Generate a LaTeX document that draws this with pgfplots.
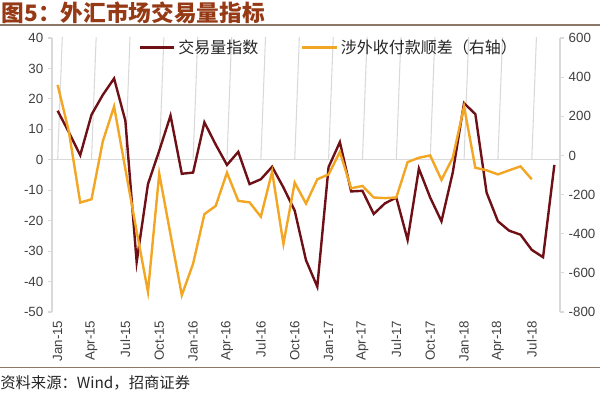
\documentclass[border=0pt]{standalone}
\usepackage{fontspec}
\setmainfont{Liberation Sans}
\newfontfamily\cjk{Noto Sans CJK SC}
\usepackage{pgfplots}
\pgfplotsset{compat=1.18}
\definecolor{redline}{RGB}{110,16,22}
\definecolor{orangeline}{RGB}{242,166,36}
\definecolor{axgray}{RGB}{217,217,217}
\definecolor{titlecol}{RGB}{150,58,22}
\definecolor{rulecol}{RGB}{140,120,105}
\definecolor{ticklab}{RGB}{64,64,64}
\begin{document}
\begin{tikzpicture}
\path[use as bounding box] (0,0) rectangle (450pt,296.25pt);
\node[anchor=west, inner sep=0pt, text=titlecol, font=\cjk\bfseries\fontsize{17}{19}\selectfont] at (1pt,286.5pt) {图5：外汇市场交易量指标};
\draw[rulecol, line width=1.6pt] (0,277.7pt) -- (450pt,277.7pt);
\draw[rulecol, line width=1.2pt] (0,20.5pt) -- (450pt,20.5pt);
\node[anchor=west, inner sep=0pt, font=\cjk\fontsize{11.5}{13}\selectfont, text=black!85] at (0pt,9pt) {资料来源：Wind，招商证券};
\begin{axis}[
  at={(39pt,62.25pt)}, anchor=south west, scale only axis,
  width=381pt, height=205.5pt,
  xmin=-0.5, xmax=44.5, ymin=-50, ymax=40,
  axis y line*=left, axis x line*=bottom,
  x axis line style={draw=none},
  y axis line style={axgray, line width=0.8pt},
  xtick={0,3,...,42},
  xticklabels={Jan-15,Apr-15,Jul-15,Oct-15,Jan-16,Apr-16,Jul-16,Oct-16,Jan-17,Apr-17,Jul-17,Oct-17,Jan-18,Apr-18,Jul-18},
  xtick style={draw=none},
  xticklabel style={rotate=90, anchor=east, font=\fontsize{10}{12}\selectfont, text=ticklab},
  ytick={-50,-40,...,40},
  yticklabels={-50,-40,-30,-20,-10,0,10,20,30,40},
  yticklabel style={font=\fontsize{10}{12}\selectfont, text=ticklab},
  ytick style={axgray, line width=0.8pt},
  tick align=outside, major tick length=3pt,
  extra y ticks={0}, extra y tick labels={},
  extra y tick style={grid=major, major grid style={axgray, line width=0.8pt}, tick style={draw=none}},
  legend style={at={(0.17,0.966)}, anchor=west, draw=none, fill=none,
    font=\cjk\fontsize{12}{14}\selectfont, text=black!85, inner sep=0pt,
    /tikz/every even column/.append style={column sep=30pt}},
  legend columns=2,
  legend image code/.code={\draw[#1] (0pt,0pt) -- (26pt,0pt);},
]
\pgfplotsinvokeforeach{0,3,...,42}{\draw[axgray, line width=0.8pt] (axis cs:#1,0) -- ++(0,-2.5pt);}
\addplot[redline, line width=1.8pt] coordinates {
(0,16.1) (1,9) (2,1.5) (3,14.8) (4,21.3) (5,26.7) (6,12.8) (7,-33.6) (8,-8.0) (9,3)
(10,14.5) (11,-4.6) (12,-4.2) (13,12.3) (14,5.0) (15,-1.7) (16,2.6) (17,-8.0) (18,-6.4) (19,-2.3)
(20,-9.1) (21,-16.7) (22,-33) (23,-41.7) (24,-2.4) (25,5.8) (26,-10.4) (27,-10.2) (28,-17.8) (29,-14.3)
(30,-12.4) (31,-26.3) (32,-2.9) (33,-12.4) (34,-20.2) (35,-4.2) (36,18.6) (37,15.0) (38,-10.8) (39,-20.2)
(40,-23.3) (41,-24.6) (42,-29.6) (43,-32) (44,-1.7)};
\addlegendentry{交易量指数}
\addlegendimage{orangeline, line width=1.8pt}
\addlegendentry{涉外收付款顺差（右轴）}
\end{axis}
\begin{axis}[
  at={(39pt,62.25pt)}, anchor=south west, scale only axis,
  width=381pt, height=205.5pt,
  xmin=-0.5, xmax=44.5, ymin=-800, ymax=600,
  axis y line*=right, axis x line=none,
  y axis line style={axgray, line width=0.8pt},
  ytick={-800,-600,...,600},
  yticklabels={-800,-600,-400,-200,0,200,400,600},
  yticklabel style={font=\fontsize{10}{12}\selectfont, text=ticklab},
  ytick style={axgray, line width=0.8pt},
  tick align=outside, major tick length=3pt,
]
\addplot[orangeline, line width=1.8pt] coordinates {
(0,360) (1,120) (2,-241) (3,-224) (4,72) (5,250) (6,-70) (7,-388) (8,-697) (9,-93)
(10,-405) (11,-714) (12,-553) (13,-300) (14,-258) (15,-88) (16,-232) (17,-240) (18,-313) (19,-83)
(20,-452) (21,-139) (22,-246) (23,-122) (24,-97) (25,18) (26,-168) (27,-156) (28,-215) (29,-218)
(30,-215) (31,-34) (32,-12) (33,0) (34,-125) (35,-12) (36,250) (37,-63) (38,-76) (39,-97)
(40,-76) (41,-56) (42,-122)};
\end{axis}
\end{tikzpicture}
\end{document}
